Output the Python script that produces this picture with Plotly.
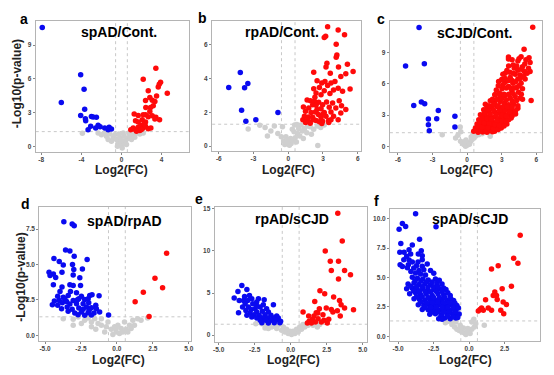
import plotly.graph_objects as go

# ---------------- DATA ----------------
# Panel a: spAD/Cont.
a_down_x = [-7.9, -6.0, -4.07, -3.73, -3.67, -4.07, -3.6, -3.57, -3.0, -2.83, -2.5, -3.07, -3.33, -2.57, -2.33, -2.13, -1.67, -1.23, -1.0, -1.33]
a_down_y = [10.56, 3.9, 6.37, 5.07, 3.3, 2.74, 2.45, 2.27, 2.65, 2.6, 2.57, 1.77, 1.47, 1.62, 1.86, 1.74, 1.62, 1.68, 1.53, 1.47]
a_up_x = [3.43, 2.17, 3.9, 3.77, 3.67, 2.67, 4.57, 3.5, 2.83, 2.4, 3.07, 3.33, 3.17, 2.9, 2.43, 2.83, 1.27, 1.67, 2.17, 2.4,
          2.67, 3.07, 3.43, 3.8, 3.33, 2.07, 1.4, 1.67, 2.4, 0.93, 1.17, 1.4, 1.67, 1.93, 2.17, 2.4, 2.67, 2.93, 1.83, 1.5, 2.0, 2.27]
a_up_y = [6.93, 5.96, 5.69, 5.52, 5.28, 4.93, 4.72, 4.48, 4.34, 4.07, 4.1, 3.98, 3.6, 3.45, 3.45, 3.1, 2.86, 2.74, 2.8, 2.8,
          2.63, 2.71, 2.57, 2.36, 2.42, 2.36, 2.27, 2.15, 2.15, 1.47, 1.62, 1.47, 1.68, 1.86, 1.62, 1.77, 1.56, 1.62, 1.39, 1.33, 1.5, 1.98]
a_ns_x = [-3.9, -2.33, -2.0, -1.5, -1.17, -0.83, -0.5, -0.33, -0.07, 0.17, 0.4, 0.6, 0.83, 1.17, 1.5, 1.83, 2.17, -0.67, -0.17, 0.27,
          0.0, -0.4, 0.07, 0.5, 1.0, -1.0, -1.33, -1.67, 1.33, 0.73, -0.27, 0.17]
a_ns_y = [1.15, 1.18, 1.03, 0.88, 1.09, 0.74, 0.59, 0.3, 0.09, 0.21, 0.44, 0.68, 0.88, 1.03, 1.18, 1.09, 1.18, 1.03, 0.8, 0.88,
          0.5, 0.0, -0.15, 0.15, 0.59, 0.44, 0.59, 1.18, 0.8, 1.18, 1.09, 1.18]

# Panel b: rpAD/Cont.
b_down_x = [-4.14, -5.14, -3.49, -3.77, -4.03, -3.66, -2.8, -0.89]
b_down_y = [4.37, 3.48, 3.72, 3.46, 2.13, 1.48, 1.56, 2.0]
b_up_x = [3.4, 4.31, 4.86, 3.23, 3.11, 4.14, 4.2, 4.14, 3.34, 5.11, 4.34, 3.26, 5.6, 2.2, 4.97, 3.63, 4.54, 2.49, 3.17, 4.03,
          3.69, 2.89, 3.4, 2.69, 2.2, 4.31, 5.34, 3.91, 3.11, 4.69, 2.4, 3.6, 2.83, 1.63, 1.91, 2.26, 2.63, 3.31, 3.83, 4.4,
          2.11, 2.4, 2.97, 1.31, 1.77, 3.54, 4.11, 4.97, 2.49, 2.83, 1.49, 1.97, 2.34, 3.11, 3.69, 4.54, 2.6, 1.4, 1.74, 2.11,
          2.83, 3.26, 3.91, 4.31, 1.26, 1.63, 2.4, 2.97, 3.49, 1.86, 2.69, 3.69, 2.2, 1.9, 2.9, 3.0, 3.5, 2.3, 1.5, 4.6]
b_up_y = [7.09, 6.89, 6.61, 6.52, 6.44, 6.04, 5.41, 5.28, 4.92, 4.86, 4.7, 4.69, 4.43, 4.39, 4.29, 4.33, 4.13, 3.88, 3.84, 3.84,
          3.74, 3.74, 3.6, 3.48, 3.41, 3.44, 3.39, 3.33, 3.29, 3.25, 3.15, 3.13, 3.05, 2.74, 2.7, 2.66, 2.6, 2.62, 2.56, 2.7,
          2.46, 2.42, 2.46, 2.32, 2.26, 2.3, 2.26, 2.17, 2.17, 2.22, 2.07, 2.0, 2.03, 2.0, 2.03, 1.97, 1.87, 1.77, 1.73, 1.71,
          1.71, 1.77, 1.77, 1.57, 1.57, 1.54, 1.52, 1.48, 1.52, 1.44, 1.44, 1.57, 1.57, 1.36, 1.35, 1.9, 1.4, 2.9, 1.4, 2.4]
b_ns_x = [-3.46, -2.46, -2.0, -1.5, -1.2, -0.9, -0.6, -0.4, -0.3, -0.1, 0.1, 0.25, 0.4, 0.6, 0.8, 1.0, 1.2, 1.4, 1.6, 1.9,
          2.2, 2.5, 2.8, 3.1, -0.2, 0.2, 0.5, 0.7, 0.0, 0.9, 1.1, 2.55, 1.3, 0.35, 1.7, -1.8, 0.55, -0.5, 0.75, 2.0]
b_ns_y = [1.02, 1.24, 1.1, 0.9, 1.2, 0.75, 0.55, 0.3, 0.1, 0.2, 0.05, 0.15, 0.35, 0.5, 0.75, 0.6, 0.9, 1.05, 0.8, 1.15,
          1.0, 1.2, 1.1, 1.25, 0.55, 0.45, 0.85, 0.25, 0.35, 1.05, 1.25, 0.04, 0.45, 1.0, 1.2, 0.6, 1.25, 1.15, 1.28, 0.7]

# Panel c: sCJD/Cont.
c_down_x = [-4.17, -5.34, -3.71, -4.63, -3.97, -3.68, -2.5, -3.36, -2.64, -3.36, -3.28, -1.06, -1.06]
c_down_y = [11.4, 7.71, 7.93, 3.92, 4.24, 4.08, 3.44, 2.61, 2.64, 2.07, 1.5, 2.87, 1.85]
c_up_x = [5.69, 4.94, 3.59, 3.59, 4.68, 5.37, 4.4, 5.46, 4.08, 4.8, 5.32, 5.46, 3.45, 4.97, 3.1, 4.17, 4.6, 3.74, 4.4, 5.03,
          2.73, 3.3, 3.97, 4.68, 3.59, 4.31, 4.8, 2.53, 3.02, 3.88, 4.45, 2.44, 2.87, 3.3, 3.74, 4.17, 4.6, 5.55, 2.01, 2.39,
          2.87, 3.25, 3.59, 4.02, 1.58, 1.72, 2.16, 2.59, 3.02, 3.45, 3.82, 4.4, 1.44, 1.87, 2.39, 2.79, 3.16, 3.59, 4.11, 1.15,
          1.58, 2.01, 2.44, 2.87, 3.3, 3.82, 1.01, 1.35, 1.81, 2.21, 2.67, 3.07, 3.45, 0.86, 1.24, 1.64, 2.1, 2.53, 2.96, 0.72,
          1.09, 1.52, 1.93, 2.39, 0.57, 0.95, 1.35, 1.72,
          0.8, 1.2, 1.6, 2.0, 2.2, 0.9, 1.3, 1.8, 2.3, 2.7, 1.1, 1.5, 1.9, 2.4, 2.8, 3.2, 1.3, 1.7, 2.1, 2.6,
          3.0, 3.4, 3.6, 1.5, 2.0, 2.5, 3.0, 3.4, 3.9, 4.2, 1.8, 2.3, 2.8, 3.3, 3.7, 4.2, 1.9, 2.3, 2.7, 3.1,
          3.5, 3.9, 4.4, 2.2, 2.6, 3.0, 3.4, 3.9, 4.3, 4.8, 2.4, 2.8, 3.2, 3.6, 4.0, 4.7, 2.7, 3.1, 3.4, 3.8,
          4.1, 4.5, 3.0, 3.3, 3.6, 3.9, 4.2, 4.6, 4.9, 3.3, 3.7, 4.0, 4.4, 4.7, 5.2, 3.6, 4.0, 4.3, 5.0, 3.9,
          4.5, 5.1]
c_up_y = [11.43, 9.3, 8.57, 8.38, 8.6, 8.5, 8.18, 8.03, 7.52, 7.64, 7.48, 7.17, 7.26, 7.17, 6.91, 6.91, 6.85, 6.59, 6.46, 6.46,
          6.21, 6.15, 6.05, 6.05, 5.73, 5.64, 5.51, 5.41, 5.51, 5.32, 5.19, 4.94, 4.78, 4.87, 4.62, 4.78, 4.62, 4.39, 4.36, 4.2,
          4.3, 4.14, 3.98, 4.04, 4.04, 3.82, 3.73, 3.82, 3.66, 3.6, 3.5, 3.66, 3.5, 3.34, 3.28, 3.18, 3.25, 3.09, 3.18, 3.03,
          2.96, 2.87, 2.8, 2.71, 2.77, 2.71, 2.55, 2.45, 2.39, 2.32, 2.23, 2.29, 2.13, 2.13, 2.07, 2.01, 1.91, 1.85, 1.75, 1.75,
          1.66, 1.59, 1.5, 1.43, 1.43, 1.34, 1.37, 1.34,
          1.55, 1.5, 1.45, 1.6, 1.4, 1.9, 1.85, 1.8, 1.7, 1.6, 2.3, 2.25, 2.2, 2.1, 2.0, 1.95, 2.7, 2.65, 2.6, 2.5,
          2.45, 2.4, 2.55, 3.2, 3.1, 3.0, 2.95, 2.9, 2.9, 3.1, 3.55, 3.45, 3.5, 3.45, 3.3, 3.4, 3.9, 4.0, 3.9, 3.8,
          3.8, 3.75, 3.9, 4.5, 4.5, 4.55, 4.45, 4.35, 4.4, 4.5, 4.95, 5.1, 5.0, 5.0, 5.05, 5.0, 5.8, 5.9, 5.6, 5.55,
          5.6, 5.8, 6.4, 6.5, 6.3, 6.3, 6.2, 6.5, 6.7, 7.0, 7.1, 7.0, 7.3, 7.4, 7.0, 7.7, 7.8, 7.7, 7.9, 8.3,
          8.4, 8.3]
c_ns_x = [-2.16, -1.0, -0.8, -0.57, -0.4, -0.29, -0.14, 0.0, 0.14, 0.3, 0.43, 0.6, 0.72, 1.0, 2.0, 0.2, -0.2, 0.5, -0.6, -0.55,
          0.35, 1.3, -0.1]
c_ns_y = [1.1, 0.8, 1.05, 0.48, 0.3, 0.16, 0.0, 0.1, 0.32, 0.45, 0.64, 0.8, 0.96, 1.1, 0.96, 0.2, 0.45, 1.1, 1.85, 1.4,
          0.9, 1.2, 0.6]

# Panel d: spAD/rpAD
d_down_x = [-3.69, -3.11, -2.97, -3.57, -3.27, -2.97, -4.38, -2.07, -4.01, -3.73, -3.09, -4.72, -4.42, -3.82, -3.0, -2.4, -4.65, -4.26, -4.42, -3.04,
            -2.58, -3.27, -3.04, -3.82, -2.53, -3.23, -2.81, -4.12, -3.73, -3.39, -2.47, -1.89, -1.73, -1.24, -4.35, -4.01, -3.62, -3.04, -2.65, -2.24,
            -2.0, -4.49, -4.12, -3.8, -3.27, -2.81, -2.35, -1.96, -1.47, -3.85, -3.46, -3.11, -2.65, -2.12, -1.77, -1.43, -3.39, -2.93, -2.47, -2.0,
            -1.59, -1.2, -2.7, -2.24, -1.77, -0.58, -2.35, -1.93, -3.5, -3.96, -2.74]
d_down_y = [8.01, 7.85, 7.73, 6.02, 5.95, 5.57, 5.41, 5.34, 5.2, 4.96, 4.99, 4.45, 4.33, 4.45, 4.64, 4.68, 4.22, 4.07, 3.56, 4.26,
            4.05, 3.56, 3.51, 3.4, 3.51, 3.09, 3.0, 2.76, 2.69, 2.81, 2.76, 2.81, 2.86, 2.79, 2.41, 2.46, 2.58, 2.46, 2.58, 2.53,
            2.58, 2.15, 2.11, 2.3, 2.2, 2.22, 2.22, 2.3, 2.11, 1.87, 1.99, 1.83, 1.92, 1.99, 1.94, 1.87, 1.69, 1.57, 1.64, 1.59,
            1.57, 1.64, 1.45, 1.41, 1.43, 1.43, 1.83, 1.76, 2.39, 3.09, 2.51]
d_up_x = [3.46, 2.65, 3.18, 1.84, 1.27, 2.24]
d_up_y = [5.78, 4.03, 3.35, 3.04, 2.37, 1.33]
d_ns_x = [-3.73, -3.04, -2.24, -1.77, -1.31, -1.08, -0.74, -0.39, -0.05, 0.18, 0.41, 0.65, 0.88, 1.11, 1.45, 1.68, 2.14, -0.16, 0.3, -0.62,
          -1.08, -2.7, -2.0, -1.54, 0.07, 0.53, 0.76, 0.99, -0.28, -0.05, -0.85, 1.22, -3.04, -2.47, -1.77, -1.47]
d_ns_y = [1.17, 1.12, 1.05, 0.94, 0.82, 0.7, 0.59, 0.42, 0.23, 0.12, 0.23, 0.42, 0.7, 1.05, 1.17, 1.05, 1.22, 0.59, 0.47, 0.94,
          1.17, 1.29, 1.22, 1.17, 0.7, 0.94, 0.23, 0.47, 0.05, 0.47, 0.23, 0.7, 0.7, 0.82, 0.59, 0.42]

# Panel e: rpAD/sCJD
e_down_x = [-3.39, -3.66, -3.04, -3.92, -3.2, -2.86, -3.27, -2.98, -2.36, -2.63, -3.16, -1.9, -1.2, -3.62, -2.93, -2.74, -2.47, -2.12, -1.67, -3.11,
            -2.82, -2.36, -1.97, -1.55, -2.54, -2.19, -1.78, -1.37, -0.97, -2.36, -1.97, -1.6, -1.2, -0.86, -2.12, -1.73, -1.37, -1.04, -0.7, -2.0,
            -1.55, -1.14, -0.75, -2.7, -3.04, -3.34, -3.57, -2.7, -2.24, -2.36, -1.84]
e_down_y = [5.89, 5.18, 5.42, 4.4, 4.59, 4.71, 4.12, 4.12, 3.93, 3.73, 3.73, 3.61, 3.61, 2.67, 3.34, 3.06, 3.14, 3.34, 3.14, 2.94,
            2.63, 2.75, 2.83, 2.75, 2.43, 2.36, 2.43, 2.36, 2.28, 2.04, 2.04, 2.04, 2.04, 2.04, 1.77, 1.77, 1.77, 1.77, 1.65, 1.49,
            1.45, 1.49, 1.49, 2.16, 2.36, 3.34, 4.12, 4.32, 4.32, 3.45, 4.2]
e_up_x = [3.27, 3.58, 2.4, 2.75, 3.32, 2.82, 3.74, 4.15, 3.32, 2.03, 2.36, 2.98, 3.39, 1.67, 3.5, 3.74, 4.36, 0.86, 1.99, 2.47,
          2.82, 3.24, 1.88, 1.77, 1.25, 1.62, 2.24, 2.93, 3.44, 1.51, 1.9, 2.31, 2.64, 1.28, 1.72, 2.13, 1.16, 1.44, 2.54]
e_up_y = [14.45, 11.15, 9.97, 8.76, 8.76, 7.66, 7.66, 7.15, 6.67, 5.26, 4.91, 4.52, 4.12, 4.0, 3.61, 3.22, 3.02, 2.75, 3.14, 3.22,
          3.06, 2.91, 2.63, 2.67, 2.28, 2.28, 2.43, 2.75, 2.28, 1.85, 1.96, 1.77, 1.88, 1.65, 1.57, 1.57, 1.45, 1.45, 1.45]
e_ns_x = [-2.0, -1.67, -1.32, -0.97, -0.63, -0.4, -0.17, 0.06, 0.29, 0.52, 0.75, 0.98, 1.21, 1.55, 1.85, 2.01, -0.86, -0.51, -0.29, -0.05,
          0.17, 0.41, 0.63, 0.86, -1.55, -1.14, -2.42, -1.78]
e_ns_y = [1.37, 1.18, 0.98, 0.79, 0.59, 0.39, 0.2, 0.08, 0.2, 0.39, 0.71, 0.98, 1.18, 1.18, 0.98, 1.26, 1.18, 0.98, 0.71, 0.47,
          0.47, 0.71, 0.98, 1.26, 0.79, 1.18, 1.37, 0.86]

# Panel f: spAD/sCJD
f_down_x = [-3.77, -4.7, -4.47, -4.93, -2.33, -3.49, -4.81, -4.0, -4.88, -4.58, -4.23, -4.12, -3.37, -3.3, -3.58, -4.86, -4.7, -4.23, -4.28, -4.35,
            -3.7, -3.3, -2.95, -3.53, -3.19, -2.72, -3.77, -3.42, -3.07, -2.49, -4.0, -3.65, -3.26, -2.88, -2.37, -4.3, -3.88, -3.53, -3.12, -2.72,
            -2.26, -1.91, -4.4, -4.0, -3.65, -3.26, -2.88, -2.49, -2.09, -1.63, -4.19, -3.77, -3.42, -3.02, -2.6, -2.19, -1.79, -1.33, -3.88, -3.49,
            -3.12, -2.72, -2.37, -1.95, -1.56, -1.09, -3.58, -3.19, -2.84, -2.44, -2.07, -1.67, -1.26, -0.86, -3.3, -2.88, -2.49, -2.09, -1.72, -1.33,
            -0.93, -2.77, -2.37, -1.95, -1.56, -1.16, -0.86, -2.14, -1.72, -1.33, -0.93,
            -4.6, -4.4, -4.0, -3.9, -4.1, -3.6, -3.3, -3.8, -3.4, -3.0, -2.6, -2.1, -4.1, -3.7, -3.3, -2.9, -2.5, -2.2, -1.8, -3.9,
            -3.5, -3.1, -2.7, -2.3, -1.9, -1.5, -3.7, -3.3, -2.9, -2.5, -2.1, -1.7, -1.3, -3.4, -3.0, -2.6, -2.2, -1.8, -1.4, -1.0,
            -3.1, -2.7, -2.3, -1.9, -1.5, -1.1, -0.75, -2.6, -2.2, -1.8, -1.4, -1.0, -0.7, -2.0, -1.5, -1.1, -0.8, -1.9]
f_down_y = [10.42, 9.58, 9.32, 9.1, 9.3, 8.25, 7.89, 7.75, 7.13, 7.13, 7.35, 6.99, 7.27, 6.85, 6.99, 6.08, 5.92, 6.48, 6.08, 5.83,
            6.0, 5.94, 6.14, 5.58, 5.66, 5.58, 5.38, 5.3, 5.21, 5.35, 5.01, 4.93, 4.87, 4.79, 4.87, 4.45, 4.54, 4.39, 4.45, 4.37,
            4.51, 4.45, 4.03, 4.08, 3.97, 4.03, 3.89, 3.97, 4.03, 3.97, 3.61, 3.69, 3.52, 3.61, 3.46, 3.61, 3.52, 3.46, 3.18, 3.13,
            3.04, 3.13, 3.04, 3.13, 3.04, 3.04, 2.68, 2.62, 2.7, 2.62, 2.7, 2.62, 2.68, 2.62, 2.28, 2.25, 2.28, 2.2, 2.28, 2.2,
            2.28, 1.86, 1.92, 1.83, 1.92, 1.86, 1.92, 1.49, 1.55, 1.49, 1.55,
            6.5, 6.8, 6.3, 5.8, 5.5, 6.3, 6.5, 4.7, 4.7, 4.6, 4.6, 4.75, 4.25, 4.2, 4.2, 4.15, 4.2, 4.2, 4.1, 3.85,
            3.8, 3.8, 3.75, 3.8, 3.8, 3.7, 3.35, 3.35, 3.3, 3.3, 3.3, 3.3, 3.2, 2.9, 2.85, 2.85, 2.9, 2.85, 2.85, 2.8,
            2.45, 2.45, 2.45, 2.45, 2.45, 2.45, 2.4, 2.05, 2.05, 2.05, 2.05, 2.05, 1.9, 1.65, 1.7, 1.65, 1.6, 1.45]
f_up_x = [3.6, 3.14, 3.44, 2.05, 1.58, 2.98, 2.33, 1.81, 1.7, 1.93, 1.16, 1.98, 2.4, 2.63, 1.35, 1.58, 0.77, 0.88, 0.65, 2.23, 2.44, 1.0]
f_up_y = [8.59, 6.62, 6.2, 6.0, 5.72, 4.25, 4.03, 3.75, 3.46, 3.46, 3.1, 3.13, 2.9, 2.7, 2.39, 2.2, 2.28, 2.39, 2.14, 2.2, 1.92, 2.2]
f_ns_x = [-1.67, -1.44, -1.21, -1.02, -0.86, -0.7, -0.51, -0.33, -0.16, 0.0, 0.19, 0.37, 0.33, 0.47, 1.07, -0.63, -0.93, -0.4, -0.09, 0.07,
          -0.23, -0.56, -1.09, 0.19]
f_ns_y = [1.15, 1.27, 0.99, 0.79, 0.59, 0.48, 0.37, 0.28, 0.37, 0.45, 0.59, 0.79, 1.44, 1.07, 0.93, 0.93, 1.21, 0.7, 0.65, 0.23,
          0.14, 0.73, 1.35, 1.21]

# Titles / labels / ticks
panel_letters = ["a", "b", "c", "d", "e", "f"]
panel_titles = ["spAD/Cont.", "rpAD/Cont.", "sCJD/Cont.", "spAD/rpAD", "rpAD/sCJD", "spAD/sCJD"]
x_title = "Log2(FC)"
y_title = "-Log10(p-value)"
a_xticks = [-8, -4, 0, 4]
bc_xticks = [-6, -3, 0, 3, 6]
def_xticks = [-5.0, -2.5, 0.0, 2.5, 5.0]
def_xticklabels = ["-5.0", "-2.5", "0.0", "2.5", "5.0"]
a_yticks = [0, 3, 6, 9]
b_yticks = [0, 2, 4, 6]
c_yticks = [0, 3, 6, 9]
d_yticks = [0.0, 2.5, 5.0, 7.5]
d_yticklabels = ["0.0", "2.5", "5.0", "7.5"]
e_yticks = [0, 5, 10, 15]
f_yticks = [0.0, 2.5, 5.0, 7.5, 10.0]
f_yticklabels = ["0.0", "2.5", "5.0", "7.5", "10.0"]
fc_cut = 0.585
p_cut = 1.3

# ---------------- LAYOUT ----------------
W, H = 554, 375
def px(x): return x / W
def py(y): return 1 - y / H

panels = [
    dict(data=(a_ns_x, a_ns_y, a_down_x, a_down_y, a_up_x, a_up_y), box=(34, 188, 19, 151), xr=[-8.55, 6.7], yr=[-0.53, 11.15],
         xt=a_xticks, xtl=[str(v) for v in a_xticks], yt=a_yticks, ytl=[str(v) for v in a_yticks]),
    dict(data=(b_ns_x, b_ns_y, b_down_x, b_down_y, b_up_x, b_up_y), box=(211.7, 361.7, 19, 150), xr=[-6.57, 6.29], yr=[-0.3, 7.43],
         xt=bc_xticks, xtl=[str(v) for v in bc_xticks], yt=b_yticks, ytl=[str(v) for v in b_yticks]),
    dict(data=(c_ns_x, c_ns_y, c_down_x, c_down_y, c_up_x, c_up_y), box=(390.7, 544, 19, 150.7), xr=[-6.7, 6.5], yr=[-0.54, 12.03],
         xt=bc_xticks, xtl=[str(v) for v in bc_xticks], yt=c_yticks, ytl=[str(v) for v in c_yticks]),
    dict(data=(d_ns_x, d_ns_y, d_down_x, d_down_y, d_up_x, d_up_y), box=(37.7, 190.7, 206, 341), xr=[-5.39, 5.18], yr=[-0.42, 9.06],
         xt=def_xticks, xtl=def_xticklabels, yt=d_yticks, ytl=d_yticklabels),
    dict(data=(e_ns_x, e_ns_y, e_down_x, e_down_y, e_up_x, e_up_y), box=(214.3, 367.7, 206, 341.7), xr=[-5.27, 5.3], yr=[-0.79, 15.2],
         xt=def_xticks, xtl=def_xticklabels, yt=e_yticks, ytl=[str(v) for v in e_yticks]),
    dict(data=(f_ns_x, f_ns_y, f_down_x, f_down_y, f_up_x, f_up_y), box=(391, 541.7, 207.7, 341), xr=[-5.56, 4.98], yr=[-0.42, 10.85],
         xt=def_xticks, xtl=def_xticklabels, yt=f_yticks, ytl=f_yticklabels),
]

letter_pos = [(21.7, 16.7), (201.7, 16), (382, 16.7), (23.3, 203), (198.7, 198), (377, 200)]
title_pos = [(117.7, 30.5), (281.7, 30), (476, 31), (123.3, 220), (292.3, 217.7), (471.7, 217.7)]
xtitle_pos = [(120, 169), (288.5, 169), (468.3, 169), (117, 360), (294, 360), (467.3, 360)]
ytitle_pos = [(15.3, 82.5), (18.3, 277)]

fig = go.Figure()
layout = dict(width=W, height=H, margin=dict(l=0, r=0, t=0, b=0), paper_bgcolor="white", plot_bgcolor="white",
              showlegend=False, shapes=[], annotations=[], font=dict(family="Liberation Sans, Arial, sans-serif"))

GRAY, BLUE, RED = "#cfcfcf", "#0a0af0", "#ff0a0a"
FRAME = "#b4b4b4"

for i, p in enumerate(panels):
    n = i + 1
    xa = "x" if n == 1 else f"x{n}"
    ya = "y" if n == 1 else f"y{n}"
    nsx, nsy, dx, dy, ux, uy = p["data"]
    for xs, ys, col in [(nsx, nsy, GRAY), (dx, dy, BLUE), (ux, uy, RED)]:
        fig.add_trace(go.Scatter(x=xs, y=ys, mode="markers", xaxis=xa, yaxis=ya, cliponaxis=False,
                                 marker=dict(size=5.5, color=col, line=dict(width=0)), hoverinfo="skip"))
    x0, x1, y0, y1 = p["box"]
    axkey = "xaxis" if n == 1 else f"xaxis{n}"
    aykey = "yaxis" if n == 1 else f"yaxis{n}"
    common = dict(showgrid=False, zeroline=False, showline=True, mirror=True, linecolor=FRAME, linewidth=1.3,
                  ticks="outside", ticklen=2, tickwidth=1, tickcolor="#888888",
                  tickfont=dict(size=6.5, color="#444444", weight="bold"), fixedrange=True)
    layout[axkey] = dict(domain=[px(x0), px(x1)], range=p["xr"], anchor=ya, tickmode="array",
                         tickvals=p["xt"], ticktext=p["xtl"], ticklabelstandoff=-1, **common)
    layout[aykey] = dict(domain=[py(y1), py(y0)], range=p["yr"], anchor=xa, tickmode="array",
                         tickvals=p["yt"], ticktext=p["ytl"], **common)
    dash = dict(color="#c8c8c8", width=1, dash="dot")
    for xv in (-fc_cut, fc_cut):
        layout["shapes"].append(dict(type="line", xref=xa, yref=f"{ya} domain", x0=xv, x1=xv, y0=0, y1=1,
                                     line=dash, layer="below"))
    layout["shapes"].append(dict(type="line", xref=f"{xa} domain", yref=ya, x0=0, x1=1, y0=p_cut, y1=p_cut,
                                 line=dash, layer="below"))
    lx, ly = letter_pos[i]
    layout["annotations"].append(dict(text=panel_letters[i], x=px(lx), y=py(ly), xref="paper", yref="paper",
                                      showarrow=False, xanchor="center", yanchor="middle",
                                      font=dict(size=14, color="black", weight="bold")))
    tx, ty = title_pos[i]
    layout["annotations"].append(dict(text=panel_titles[i], x=px(tx), y=py(ty), xref="paper", yref="paper",
                                      showarrow=False, xanchor="center", yanchor="middle",
                                      font=dict(size=14, color="black", weight="bold")))
    ax_, ay_ = xtitle_pos[i]
    layout["annotations"].append(dict(text=x_title, x=px(ax_), y=py(ay_), xref="paper", yref="paper",
                                      showarrow=False, xanchor="center", yanchor="middle",
                                      font=dict(size=12, color="#222222", weight="bold")))

for (yx, yy) in ytitle_pos:
    layout["annotations"].append(dict(text=y_title, x=px(yx), y=py(yy), xref="paper", yref="paper",
                                      showarrow=False, xanchor="center", yanchor="middle", textangle=-90,
                                      font=dict(size=12, color="#222222", weight="bold")))

fig.update_layout(**layout)
fig.write_html("out.html", config={"displayModeBar": False},
               post_script="document.body.style.margin='0px'; document.body.style.overflow='hidden';")
